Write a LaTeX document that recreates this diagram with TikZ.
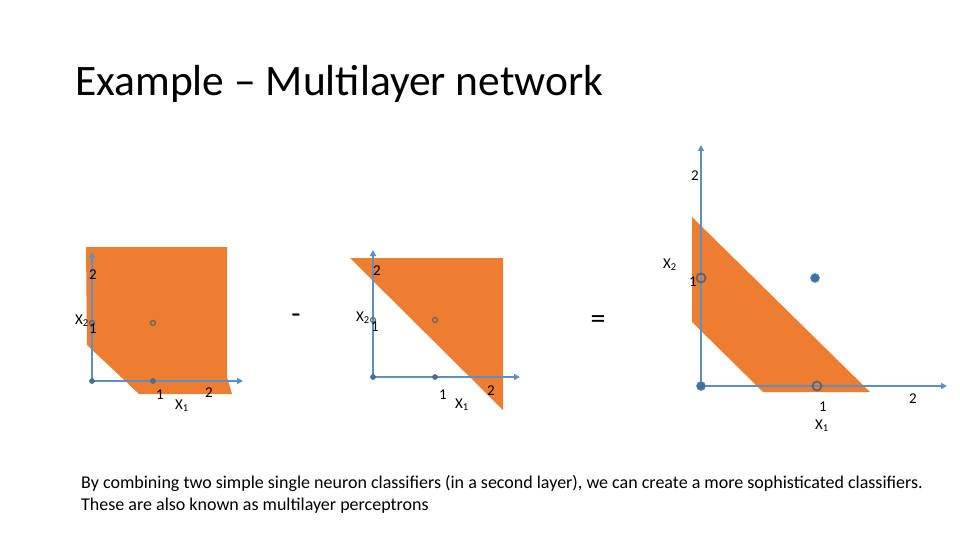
\documentclass[tikz,border=0pt]{standalone}
\usepackage{fontspec}
\setmainfont{Carlito}
\usetikzlibrary{arrows.meta}
\definecolor{orng}{HTML}{ED7D31}
\definecolor{axblue}{HTML}{5B8FC7}
\definecolor{dotblue}{HTML}{41719C}
\definecolor{ringgrey}{HTML}{5E6470}
\begin{document}
\begin{tikzpicture}[x=1pt,y=-1pt,
  region/.style={fill=orng,draw=none},
  axis/.style={draw=axblue,line width=1.8pt,-{Triangle[length=6pt,width=6pt]}},
  lbl/.style={font=\fontsize{15}{15}\selectfont,inner sep=0pt,text=black},
  op/.style={font=\fontsize{30}{30}\selectfont,inner sep=0pt},
  sdot/.style={circle,fill=dotblue,draw=ringgrey,line width=0.6pt,inner sep=0pt,minimum size=5pt},
  sring/.style={circle,draw=ringgrey,line width=1.2pt,inner sep=0pt,minimum size=5pt},
  bdot/.style={circle,fill=dotblue,draw=axblue,line width=0.6pt,inner sep=0pt,minimum size=9pt},
  bring/.style={circle,draw=ringgrey,line width=1.8pt,inner sep=0pt,minimum size=9pt},
  body/.style={font=\fontsize{18}{18}\selectfont,inner sep=0pt,anchor=base west}]
\useasboundingbox (0,0) rectangle (960,540);

% title
\node[anchor=base west,inner sep=0pt,font=\fontsize{43.5}{43.5}\selectfont] (title) at (75,96) {Example – Multilayer network};

% ---------- panel 1 ----------
\fill[region] (86,247) -- (227,247) -- (227,377) -- (232,394) -- (139,394) -- (87,345) -- cycle;
\coordinate (o1) at (92,381);
\coordinate (x1e) at (243,381);
\coordinate (y1e) at (92,252);
\draw[axis] (o1) -- (x1e);
\draw[axis] (o1) -- (y1e);
\node[sdot] (p1a) at (o1) {};
\node[sdot] (p1b) at (153,381) {};
\node[sring] (p1c) at (153,323) {};
\node[sring] (p1d) at (92,323) {};
\node[lbl] (p1y2) at (93,275) {2};
\node[lbl,anchor=east] (p1X2) at (89,321) {X\textsubscript{2}};
\node[lbl] (p1y1) at (93,329) {1};
\node[lbl] (p1x1) at (160,395) {1};
\node[lbl] (p1X1) at (182,406) {X\textsubscript{1}};
\node[lbl] (p1x2) at (209,393) {2};

% minus
\node[op] (minus) at (296,319) {-};

% ---------- panel 2 ----------
\fill[region] (350,258) -- (503,258) -- (503,410) -- cycle;
\coordinate (o2) at (373,377);
\coordinate (x2e) at (520,377);
\coordinate (y2e) at (373,250);
\draw[axis] (o2) -- (x2e);
\draw[axis] (o2) -- (y2e);
\node[sdot] (p2a) at (o2) {};
\node[sdot] (p2b) at (435,377) {};
\node[sring] (p2c) at (435,320) {};
\node[sring] (p2d) at (373,320) {};
\node[lbl] (p2y2) at (377,271) {2};
\node[lbl,anchor=east] (p2X2) at (370,318) {X\textsubscript{2}};
\node[lbl] (p2y1) at (375,327) {1};
\node[lbl] (p2x1) at (443,395) {1};
\node[lbl] (p2X1) at (462,405) {X\textsubscript{1}};
\node[lbl] (p2x2) at (491,391) {2};

% equals
\node[op] (equals) at (598,322) {=};

% ---------- panel 3 ----------
\fill[region] (692,217) -- (870,392) -- (763,392) -- (692,322) -- cycle;
\coordinate (o3) at (701,386);
\coordinate (x3e) at (947,386);
\coordinate (y3e) at (701,145);
\draw[axis] (o3) -- (x3e);
\draw[axis] (o3) -- (y3e);
\node[bdot] (p3a) at (o3) {};
\node[bdot] (p3b) at (815,278) {};
\node[bring] (p3c) at (701,278) {};
\node[bring] (p3d) at (817,386) {};
\node[lbl] (p3y2) at (695,176) {2};
\node[lbl] (p3X2) at (670,265) {X\textsubscript{2}};
\node[lbl] (p3y1) at (693,282) {1};
\node[lbl] (p3x1) at (823,407) {1};
\node[lbl] (p3X1) at (822,426) {X\textsubscript{1}};
\node[lbl] (p3x2) at (913,399) {2};

% caption
\node[body] (cap1) at (81,488) {By combining two simple single neuron classifiers (in a second layer), we can create a more sophisticated classifiers.};
\node[body] (cap2) at (81,510) {These are also known as multilayer perceptrons};
\end{tikzpicture}
\end{document}
